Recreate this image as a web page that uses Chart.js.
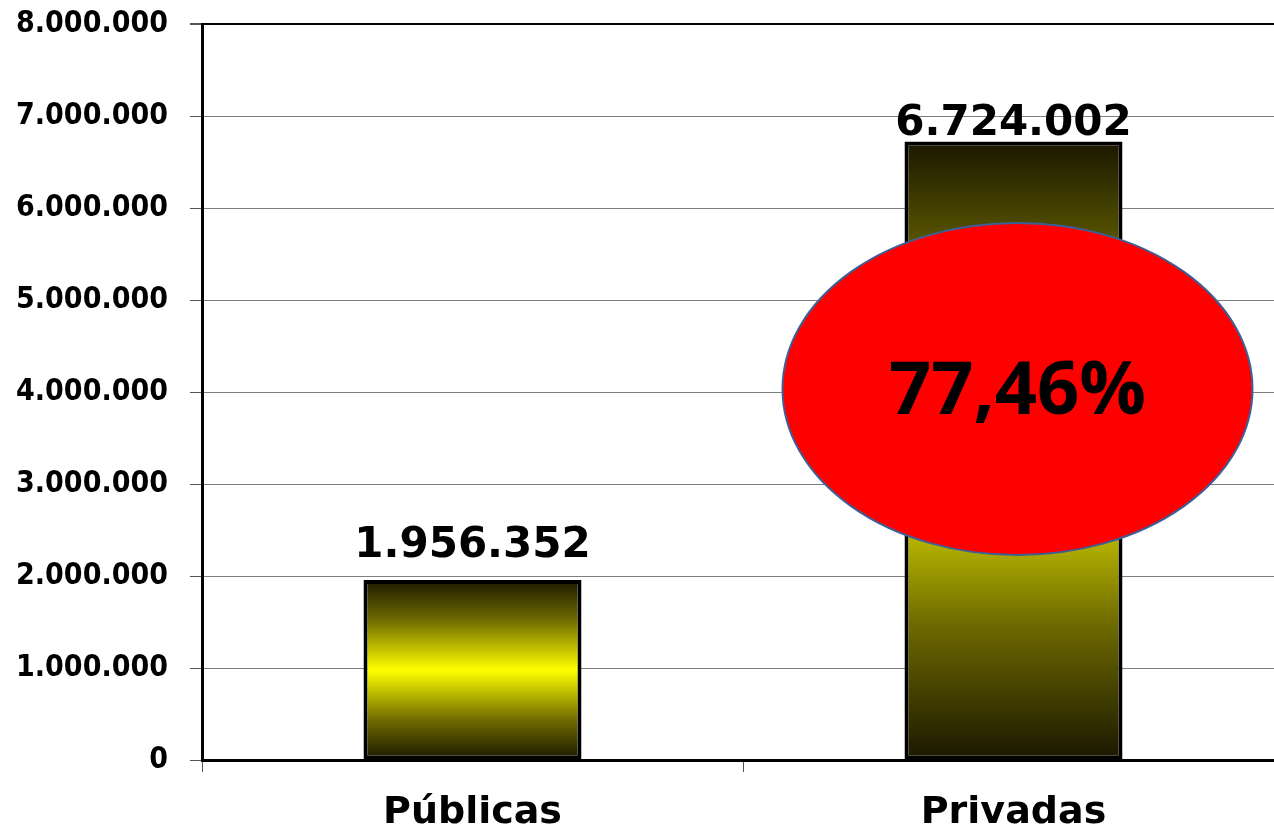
<!DOCTYPE html>
<html lang="es">
<head>
    <meta charset="UTF-8" />
    <title>Públicas vs Privadas</title>
    <script src="https://cdn.jsdelivr.net/npm/chart.js"></script>
    <style>
        html, body { margin: 0; padding: 0; overflow: hidden; background: #fff; }
        #chart-box { width: 1290px; height: 842px; }
    </style>
</head>
<body>
    <div id="chart-box">
        <canvas id="barChart" width="1290" height="842"></canvas>
    </div>

    <script>
        // data
        const categories = ['Públicas', 'Privadas'];
        const totals = [1956352, 6724002];
        const yTicks = [0, 1000000, 2000000, 3000000, 4000000, 5000000, 6000000, 7000000, 8000000];

        const fmt = n => n.toLocaleString('de-DE');
        const share = totals[1] / (totals[0] + totals[1]) * 100;
        const shareText = share.toFixed(2).replace('.', ',') + '%';

        const labelFont = 'bold 42px "DejaVu Sans", Verdana, sans-serif';
        const labelGap = [23, 6]; // baseline distance above bar top

        function barGradient(context) {
            const chart = context.chart;
            const { ctx, chartArea, scales } = chart;
            if (!chartArea || !scales.y) return '#ffff00';
            const top = scales.y.getPixelForValue(totals[context.dataIndex]);
            const base = scales.y.getPixelForValue(0);
            const g = ctx.createLinearGradient(0, top, 0, base);
            g.addColorStop(0, '#1a1700');
            g.addColorStop(0.22, '#6e6a00');
            g.addColorStop(0.5, '#ffff00');
            g.addColorStop(0.78, '#6e6a00');
            g.addColorStop(1, '#1a1700');
            return g;
        }

        // value labels above each bar
        const valueLabels = {
            id: 'valueLabels',
            afterDatasetsDraw(chart) {
                const ctx = chart.ctx;
                const meta = chart.getDatasetMeta(0);
                ctx.save();
                ctx.font = labelFont;
                ctx.fillStyle = '#000';
                ctx.textAlign = 'center';
                ctx.textBaseline = 'alphabetic';
                meta.data.forEach((bar, i) => {
                    ctx.fillText(fmt(totals[i]), bar.x, bar.y - labelGap[i]);
                });
                ctx.restore();
            }
        };

        // red ellipse with the private share
        const shareBadge = {
            id: 'shareBadge',
            afterDatasetsDraw(chart) {
                const ctx = chart.ctx;
                const cx = chart.scales.x.getPixelForValue(1) + 4;
                const cy = chart.scales.y.getPixelForValue(4000000) - 3;
                ctx.save();
                ctx.beginPath();
                ctx.ellipse(cx, cy, 235, 166, 0, 0, Math.PI * 2);
                ctx.fillStyle = '#ff0000';
                ctx.fill();
                ctx.lineWidth = 2;
                ctx.strokeStyle = '#3c5f96';
                ctx.stroke();
                ctx.font = 'bold 74px "Open Sans", "Noto Sans", sans-serif';
                ctx.fillStyle = '#000';
                ctx.textAlign = 'center';
                ctx.textBaseline = 'middle';
                ctx.fillText(shareText, cx, cy + 4);
                ctx.restore();
            }
        };

        new Chart(document.getElementById('barChart'), {
            type: 'bar',
            data: {
                labels: categories,
                datasets: [{
                    data: totals,
                    backgroundColor: barGradient,
                    borderColor: '#000',
                    borderWidth: 4,
                    borderSkipped: false,
                    categoryPercentage: 1,
                    barPercentage: 0.403
                }]
            },
            options: {
                responsive: false,
                animation: false,
                layout: { padding: { top: 24, right: 6, left: 0, bottom: 0 } },
                plugins: {
                    legend: { display: false },
                    tooltip: { enabled: false }
                },
                scales: {
                    y: {
                        min: 0,
                        max: 8000000,
                        afterFit: scale => {
                            scale.width = 202;
                            scale.paddingTop = 0;
                            scale.paddingBottom = 0;
                        },
                        afterBuildTicks: scale => { scale.ticks = yTicks.map(v => ({ value: v })); },
                        border: { color: '#000', width: 3 },
                        grid: {
                            color: c => c.tick && c.tick.value === 8000000 ? '#000' : '#7f7f7f',
                            lineWidth: c => c.tick && c.tick.value === 8000000 ? 2 : 1,
                            tickColor: '#555',
                            tickLength: 12
                        },
                        ticks: {
                            padding: 22,
                            color: '#000',
                            font: { family: '"DejaVu Sans Condensed", "DejaVu Sans", sans-serif', size: 30, weight: 'bold' },
                            callback: v => fmt(v)
                        }
                    },
                    x: {
                        offset: true,
                        afterFit: scale => { scale.height = 82; },
                        border: { color: '#000', width: 3 },
                        grid: {
                            offset: true,
                            drawOnChartArea: false,
                            color: '#555',
                            tickLength: 12
                        },
                        ticks: {
                            padding: 18,
                            color: '#000',
                            font: { family: '"DejaVu Sans", Verdana, sans-serif', size: 38, weight: 'bold' }
                        }
                    }
                }
            },
            plugins: [valueLabels, shareBadge]
        });
    </script>
</body>
</html>
